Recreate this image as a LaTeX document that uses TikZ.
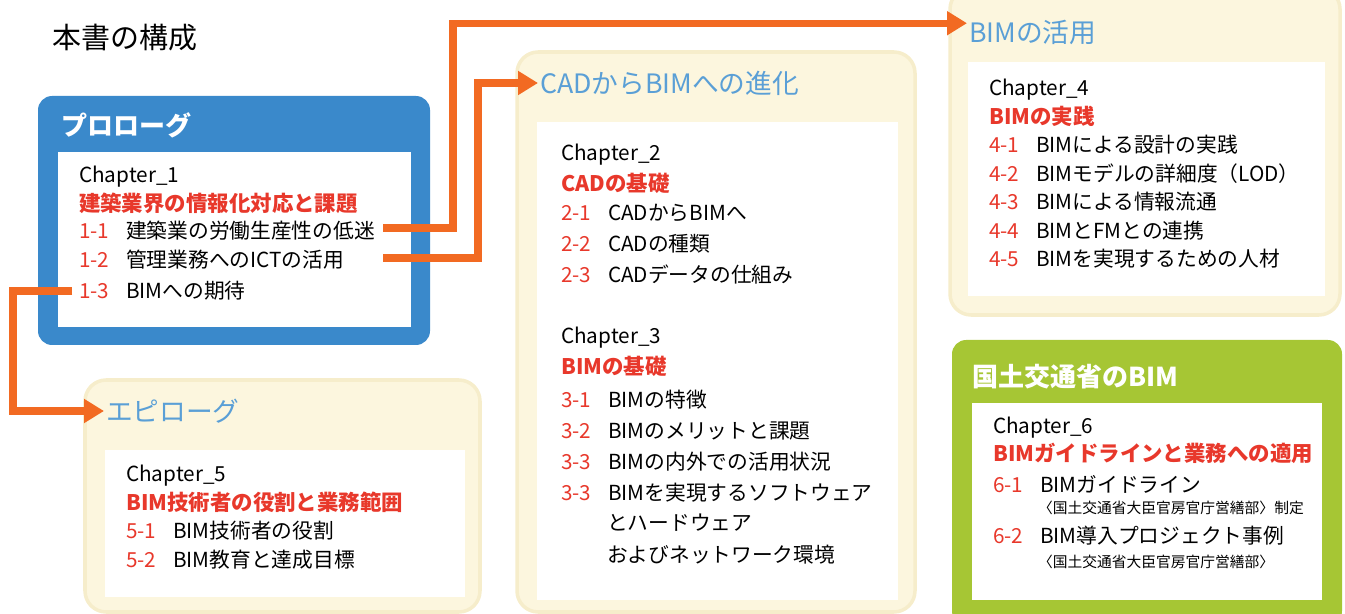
\documentclass[tikz,border=0pt]{standalone}
\usepackage{fontspec}
\setmainfont{Noto Sans CJK JP}
\usetikzlibrary{arrows.meta}
\definecolor{problue}{HTML}{3A89CB}
\definecolor{headblue}{HTML}{5A9FD6}
\definecolor{creamfill}{HTML}{FCF6DE}
\definecolor{creamedge}{HTML}{F6EDCB}
\definecolor{mlitgreen}{HTML}{A6C634}
\definecolor{numred}{HTML}{E8382B}
\definecolor{flowline}{HTML}{F26A22}
\newcommand{\secno}[1]{\makebox[0.94cm][l]{\textcolor{numred}{#1}}}
\tikzset{
  line/.style={anchor=west, inner sep=1pt, font=\fontsize{11.8pt}{14pt}\selectfont},
  chap/.style={line, text=numred, font=\fontsize{12.2pt}{14pt}\selectfont\bfseries},
  note/.style={anchor=west, inner sep=1pt, font=\fontsize{8.4pt}{10pt}\selectfont},
  head/.style={anchor=west, inner sep=1pt, text=headblue, font=\fontsize{15.2pt}{17pt}\selectfont},
  whitehead/.style={anchor=west, inner sep=1pt, text=white, font=\fontsize{14.8pt}{17pt}\selectfont\bfseries},
  cream/.style={fill=creamfill, draw=creamedge, line width=2pt, rounded corners=12pt},
  flow/.style={draw=flowline, line width=4pt, -{Triangle[length=0.4cm, width=0.46cm]}}
}
\begin{document}
\begin{tikzpicture}[x=0.02cm, y=-0.02cm]
    \useasboundingbox (0,0) rectangle (1345,614);
    \node[anchor=west, inner sep=0pt, font=\fontsize{16.5pt}{19pt}\selectfont] (ttl) at (52,38) {本書の構成};

    % prologue
    \fill[problue, rounded corners=8pt] (38,96) rectangle (430,345);
    \fill[white] (58,152) rectangle (411,327);
    \node[whitehead] (proT) at (59,125) {プロローグ};
    \node[line] (c1) at (77,177) {Chapter\_1};
    \node[chap] (c1t) at (77,203) {建築業界の情報化対応と課題};
    \node[line] (i11) at (77,231) {\secno{1-1}建築業の労働生産性の低迷};
    \node[line] (i12) at (77,260) {\secno{1-2}管理業務へのICTの活用};
    \node[line] (i13) at (77,291) {\secno{1-3}BIMへの期待};

    % epilogue
    \fill[cream] (85,380) rectangle (480,612);
    \fill[white] (105,450) rectangle (465,597);
    \node[head] (epiT) at (104,411) {エピローグ};
    \node[line] (c5) at (124,476) {Chapter\_5};
    \node[chap] (c5t) at (124,502) {BIM技術者の役割と業務範囲};
    \node[line] (i51) at (124,531) {\secno{5-1}BIM技術者の役割};
    \node[line] (i52) at (124,560) {\secno{5-2}BIM教育と達成目標};

    % cad to bim
    \fill[cream] (517,52) rectangle (915,612);
    \fill[white] (537,122) rectangle (898,600);
    \node[head] (cadT) at (538,83) {CADからBIMへの進化};
    \node[line] (c2) at (559,155) {Chapter\_2};
    \node[chap] (c2t) at (559,183) {CADの基礎};
    \node[line] (i21) at (559,213) {\secno{2-1}CADからBIMへ};
    \node[line] (i22) at (559,244) {\secno{2-2}CADの種類};
    \node[line] (i23) at (559,275) {\secno{2-3}CADデータの仕組み};
    \node[line] (c3) at (559,338) {Chapter\_3};
    \node[chap] (c3t) at (559,366) {BIMの基礎};
    \node[line] (i31) at (559,400) {\secno{3-1}BIMの特徴};
    \node[line] (i32) at (559,431) {\secno{3-2}BIMのメリットと課題};
    \node[line] (i33) at (559,462) {\secno{3-3}BIMの内外での活用状況};
    \node[line] (i34) at (559,493) {\secno{3-3}BIMを実現するソフトウェア};
    \node[line] (i34b) at (605,523) {とハードウェア};
    \node[line] (i34c) at (605,555) {およびネットワーク環境};

    % use of bim
    \fill[cream] (950,-12) rectangle (1340,315);
    \fill[white] (968,62) rectangle (1325,296);
    \node[head] (useT) at (967,32) {BIMの活用};
    \node[line] (c4) at (987,90) {Chapter\_4};
    \node[chap] (c4t) at (987,116) {BIMの実践};
    \node[line] (i41) at (987,145) {\secno{4-1}BIMによる設計の実践};
    \node[line] (i42) at (987,174) {\secno{4-2}BIMモデルの詳細度（LOD）};
    \node[line] (i43) at (987,202) {\secno{4-3}BIMによる情報流通};
    \node[line] (i44) at (987,231) {\secno{4-4}BIMとFMとの連携};
    \node[line] (i45) at (987,259) {\secno{4-5}BIMを実現するための人材};

    % mlit
    \fill[mlitgreen, rounded corners=8pt] (952,340) rectangle (1342,625);
    \fill[white] (972,403) rectangle (1322,600);
    \node[whitehead] (mlitT) at (970,377) {国土交通省のBIM};
    \node[line] (c6) at (991,428) {Chapter\_6};
    \node[chap] (c6t) at (991,453) {BIMガイドラインと業務への適用};
    \node[line] (i61) at (991,484) {\secno{6-1}BIMガイドライン};
    \node[note] (n61) at (1036,508) {〈国土交通省大臣官房官庁営繕部〉制定};
    \node[line] (i62) at (991,536) {\secno{6-2}BIM導入プロジェクト事例};
    \node[note] (n62) at (1036,562) {〈国土交通省大臣官房官庁営繕部〉};

    % connectors
    \coordinate (o11) at (383,228);
    \coordinate (o12) at (383,258);
    \coordinate (o13) at (72,291);
    \draw[flow] (o11) -| (453,100) |- ([yshift=5pt]useT.west);
    \draw[flow] (o12) -| (478,150) |- (cadT.west);
    \draw[flow] (o13) -| (13,380) |- (epiT.west);
\end{tikzpicture}
\end{document}
